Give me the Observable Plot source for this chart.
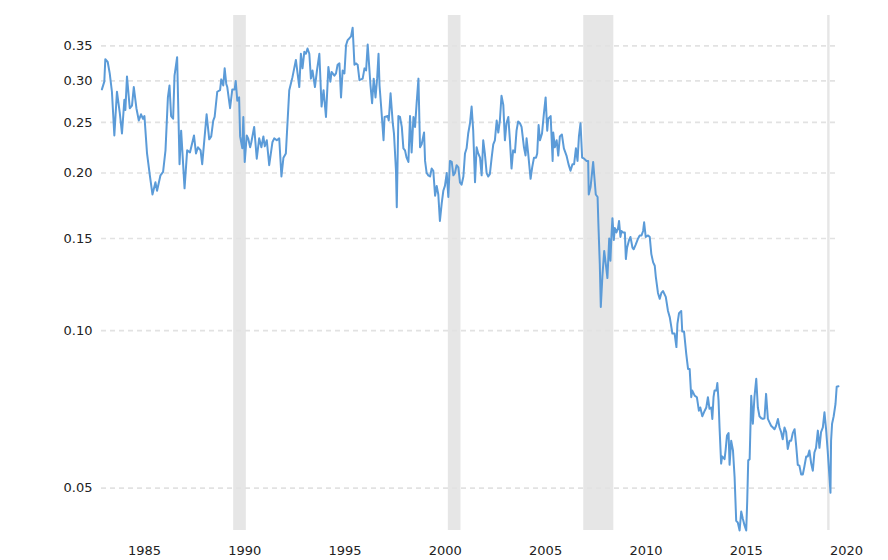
<!DOCTYPE html>
<html>
<head>
<meta charset="utf-8">
<script src="https://cdn.jsdelivr.net/npm/d3@7"></script>
<script src="https://cdn.jsdelivr.net/npm/@observablehq/plot@0.6"></script>
<style>
  html, body { margin: 0; padding: 0; background: #fff; }
  #chart svg { display: block; }
</style>
</head>
<body>
<div id="chart"></div>
<script>
const years = [
  1982.88,1983.00,1983.05,1983.17,1983.27,1983.38,1983.50,1983.63,1983.77,1983.88,
  1984.00,1984.05,1984.13,1984.27,1984.38,1984.47,1984.60,1984.72,1984.83,1984.93,
  1985.00,1985.13,1985.27,1985.40,1985.55,1985.63,1985.80,1985.93,1986.05,1986.17,
  1986.25,1986.33,1986.43,1986.50,1986.63,1986.75,1986.83,1987.00,1987.13,1987.27,
  1987.47,1987.57,1987.67,1987.80,1987.88,1988.10,1988.23,1988.33,1988.43,1988.50,
  1988.63,1988.77,1988.83,1988.93,1989.00,1989.08,1989.13,1989.27,1989.38,1989.50,
  1989.55,1989.63,1989.72,1989.77,1989.88,1989.93,1990.00,1990.10,1990.17,1990.27,
  1990.33,1990.47,1990.60,1990.72,1990.83,1990.93,1991.00,1991.10,1991.22,1991.38,
  1991.47,1991.60,1991.72,1991.83,1991.93,1992.05,1992.22,1992.38,1992.55,1992.72,
  1992.80,1992.88,1992.97,1993.05,1993.13,1993.22,1993.30,1993.38,1993.50,1993.60,
  1993.72,1993.83,1993.93,1994.05,1994.17,1994.27,1994.33,1994.47,1994.55,1994.63,
  1994.72,1994.80,1994.88,1994.97,1995.05,1995.13,1995.22,1995.30,1995.38,1995.47,
  1995.55,1995.63,1995.72,1995.88,1995.97,1996.05,1996.13,1996.27,1996.35,1996.43,
  1996.52,1996.60,1996.67,1996.72,1996.80,1996.92,1996.97,1997.13,1997.18,1997.27,
  1997.38,1997.44,1997.54,1997.58,1997.66,1997.74,1997.83,1997.91,1997.99,1998.07,
  1998.16,1998.24,1998.32,1998.41,1998.49,1998.57,1998.66,1998.71,1998.74,1998.82,
  1998.94,1998.99,1999.07,1999.15,1999.24,1999.32,1999.40,1999.49,1999.57,1999.65,
  1999.73,1999.82,1999.90,1999.98,2000.07,2000.15,2000.23,2000.32,2000.40,2000.48,
  2000.56,2000.65,2000.73,2000.81,2000.90,2000.98,2001.06,2001.14,2001.23,2001.31,
  2001.39,2001.48,2001.56,2001.64,2001.73,2001.81,2001.89,2001.97,2002.06,2002.14,
  2002.22,2002.31,2002.39,2002.47,2002.56,2002.64,2002.72,2002.80,2002.89,2002.97,
  2003.05,2003.14,2003.22,2003.30,2003.38,2003.47,2003.55,2003.63,
  2003.72,2003.80,2003.92,2004.00,2004.05,2004.13,2004.25,2004.33,2004.42,2004.52,
  2004.58,2004.65,2004.72,2004.82,2004.91,2005.00,2005.08,2005.13,2005.25,2005.35,
  2005.38,2005.46,2005.55,2005.63,2005.71,2005.81,2005.91,2006.04,2006.14,2006.24,
  2006.34,2006.42,2006.51,2006.59,2006.66,2006.74,2006.82,2006.92,2007.04,2007.12,
  2007.15,2007.24,2007.37,2007.50,2007.59,
  2007.63,2007.70,2007.75,2007.83,2007.92,2008.00,2008.08,2008.17,2008.23,2008.28,
  2008.33,2008.40,2008.45,2008.53,2008.61,2008.66,2008.73,2008.78,2008.86,2008.95,
  2009.00,2009.06,2009.16,2009.23,2009.33,2009.39,2009.49,2009.61,2009.69,2009.78,
  2009.86,2009.91,2009.99,2010.11,2010.19,2010.27,2010.36,2010.44,2010.49,2010.60,
  2010.69,2010.77,2010.85,2010.99,2011.10,2011.19,
  2011.32,2011.43,2011.52,2011.57,2011.65,2011.76,2011.81,2011.90,2012.01,2012.10,
  2012.18,2012.26,2012.31,2012.43,2012.54,2012.64,2012.71,2012.81,2012.93,2013.01,
  2013.09,2013.17,2013.26,2013.31,2013.37,2013.42,2013.51,2013.56,2013.62,2013.67,
  2013.75,2013.80,2013.87,2013.92,2013.97,2014.04,2014.12,2014.17,2014.25,2014.34,
  2014.42,2014.50,2014.58,2014.67,2014.75,2014.83,2014.92,2015.00,2015.05,2015.10,
  2015.17,2015.25,2015.33,2015.41,2015.50,2015.58,2015.66,2015.75,2015.83,2015.91,
  2015.99,2016.08,2016.16,2016.24,2016.33,2016.41,2016.49,2016.58,2016.66,2016.74,
  2016.82,2016.91,2016.99,2017.07,2017.16,2017.24,2017.32,2017.41,2017.49,2017.57,
  2017.65,2017.74,2017.82,2017.90,2017.99,2018.07,2018.15,2018.24,2018.32,2018.40,
  2018.48,2018.57,2018.65,2018.73,2018.82,2018.90,2018.98,2019.06,2019.15,2019.20,
  2019.23,2019.28,2019.36,2019.45,2019.51,2019.60
];

const ratio = [
  0.289,0.299,0.330,0.326,0.310,0.286,0.236,0.286,0.261,0.238,
  0.276,0.264,0.306,0.266,0.269,0.292,0.266,0.252,0.259,0.254,
  0.257,0.218,0.198,0.182,0.192,0.185,0.198,0.201,0.221,0.279,
  0.294,0.257,0.254,0.307,0.333,0.208,0.241,0.187,0.221,0.219,
  0.236,0.218,0.224,0.221,0.208,0.259,0.232,0.235,0.252,0.256,
  0.286,0.288,0.302,0.294,0.317,0.296,0.292,0.266,0.289,0.289,
  0.300,0.275,0.279,0.235,0.223,0.256,0.210,0.236,0.233,0.224,
  0.229,0.245,0.213,0.233,0.224,0.235,0.225,0.231,0.207,0.229,
  0.233,0.231,0.233,0.197,0.214,0.218,0.288,0.305,0.329,0.292,
  0.338,0.317,0.341,0.338,0.346,0.338,0.303,0.314,0.292,0.314,
  0.338,0.268,0.288,0.256,0.319,0.299,0.312,0.307,0.310,0.322,
  0.324,0.279,0.314,0.310,0.351,0.359,0.362,0.365,0.379,0.322,
  0.324,0.322,0.301,0.303,0.317,0.314,0.352,0.294,0.272,0.303,
  0.279,0.303,0.338,0.294,0.268,0.231,0.256,0.257,0.252,0.284,
  0.249,0.238,0.202,0.172,0.257,0.256,0.245,0.223,0.221,0.214,
  0.210,0.257,0.219,0.256,0.245,0.272,0.303,0.249,0.224,0.227,
  0.239,0.211,0.200,0.198,0.197,0.204,0.202,0.181,0.189,0.182,
  0.162,0.175,0.185,0.189,0.200,0.180,0.211,0.210,0.198,0.200,
  0.207,0.205,0.192,0.190,0.197,0.218,0.223,0.238,0.249,0.268,
  0.241,0.192,0.224,0.218,0.214,0.198,0.231,0.218,0.200,0.197,
  0.199,0.214,0.227,0.231,0.252,0.239,0.252,0.281,0.270,0.231,
  0.249,0.256,0.231,0.204,0.221,0.219,0.241,0.251,
  0.249,0.245,0.224,0.216,0.233,0.218,0.195,0.205,0.214,0.214,
  0.218,0.247,0.231,0.238,0.259,0.279,0.241,0.254,0.257,0.211,
  0.239,0.224,0.231,0.216,0.235,0.237,0.223,0.216,0.208,0.202,
  0.208,0.208,0.223,0.211,0.235,0.249,0.214,0.213,0.211,0.211,
  0.182,0.188,0.210,0.182,0.180,
  0.160,0.134,0.111,0.127,0.142,0.134,0.126,0.150,0.136,0.151,
  0.164,0.149,0.157,0.154,0.157,0.162,0.151,0.155,0.154,0.154,
  0.137,0.144,0.149,0.151,0.144,0.143,0.146,0.150,0.152,0.152,
  0.155,0.161,0.151,0.152,0.151,0.140,0.135,0.133,0.127,0.118,
  0.115,0.118,0.119,0.116,0.109,0.106,
  0.0987,0.0987,0.0930,0.103,0.108,0.109,0.0996,0.0996,0.0903,0.0845,
  0.0845,0.0746,0.0768,0.0751,0.0746,0.0703,0.0713,0.0686,0.0703,0.0713,
  0.0746,0.0709,0.0713,0.0678,0.0746,0.0768,0.0768,0.0794,0.0735,0.0653,
  0.0557,0.0575,0.0571,0.0568,0.0590,0.0630,0.0637,0.0554,0.0616,0.0590,
  0.0525,0.0433,0.0430,0.0415,0.0451,0.0437,0.0424,0.0415,0.0473,0.0565,
  0.0568,0.0751,0.0664,0.0746,0.0809,0.0713,0.0686,0.0680,0.0678,0.0680,
  0.0757,0.0678,0.0668,0.0658,0.0653,0.0648,0.0658,0.0678,0.0653,0.0640,
  0.0620,0.0653,0.0640,0.0594,0.0616,0.0616,0.0637,0.0648,0.0603,0.0554,
  0.0552,0.0531,0.0531,0.0550,0.0575,0.0575,0.0590,0.0557,0.0540,0.0585,
  0.0597,0.0644,0.0597,0.0640,0.0653,0.0698,0.0648,0.0590,0.0525,0.0490,
  0.0616,0.0664,0.0686,0.0724,0.0781,0.0783
];

const recessionStart = [1989.45, 2000.15, 2006.90, 2019.06];
const recessionEnd   = [1990.08, 2000.78, 2008.40, 2019.18];

const xTicks = [1985, 1990, 1995, 2000, 2005, 2010, 2015, 2020];
const yTicks = [0.05, 0.10, 0.15, 0.20, 0.25, 0.30, 0.35];

const series = years.map((t, i) => ({ t, v: ratio[i] }));
const bands = recessionStart.map((s, i) => ({ s, e: recessionEnd[i] }));

const chart = Plot.plot({
  width: 888,
  height: 560,
  marginLeft: 101,
  marginRight: 50,
  marginTop: 15,
  marginBottom: 30,
  style: { fontFamily: "DejaVu Sans, sans-serif", fontSize: "13px", color: "#222", background: "#fff", overflow: "visible" },
  x: { domain: [1982.86, 2019.6], ticks: xTicks, tickFormat: d => String(d), tickSize: 0, tickPadding: 15, label: null },
  y: { type: "log", domain: [0.0415, 0.40], ticks: yTicks, tickFormat: d3.format(".2f"), tickSize: 0, tickPadding: 9, label: null },
  marks: [
    Plot.rectX(bands, { x1: "s", x2: "e", fill: "#e6e6e6" }),
    Plot.ruleY(yTicks, { stroke: "#e2e2e2", strokeWidth: 1.6, strokeDasharray: "5,4" }),
    Plot.axisX({ ticks: xTicks, tickFormat: d => String(d), tickSize: 0, tickPadding: 15, fill: "#222" }),
    Plot.axisY({ ticks: yTicks, tickFormat: d3.format(".2f"), tickSize: 0, tickPadding: 9, fill: "#222" }),
    Plot.line(series, { x: "t", y: "v", stroke: "#5b9bd8", strokeWidth: 2, strokeLinejoin: "round" })
  ]
});
document.getElementById("chart").appendChild(chart);
</script>
</body>
</html>
